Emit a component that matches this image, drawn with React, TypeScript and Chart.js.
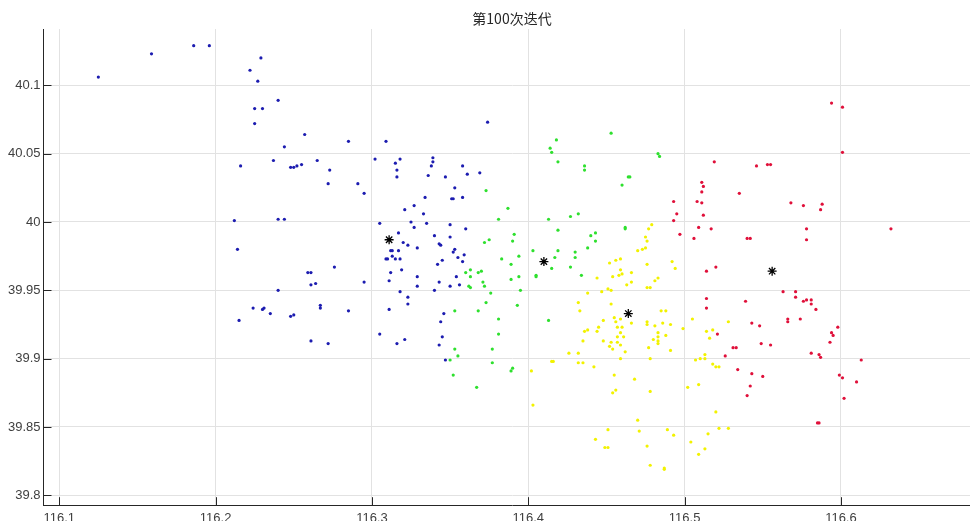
import React, { useEffect, useRef } from 'react';
import { Chart, registerables } from 'chart.js';

Chart.register(...registerables);

const titleText = '第100次迭代';

const xTicks = [116.1, 116.2, 116.3, 116.4, 116.5, 116.6];
const xTickLabels = ['116.1', '116.2', '116.3', '116.4', '116.5', '116.6'];
const yTicks = [39.8, 39.85, 39.9, 39.95, 40, 40.05, 40.1];
const yTickLabels = ['39.8', '39.85', '39.9', '39.95', '40', '40.05', '40.1'];

const xMin = 116.0896;
const xMax = 116.6896;
const yMin = 39.7924;
const yMax = 40.1412;

const blueX = [116.125, 116.159, 116.186, 116.196, 116.229, 116.222, 116.227, 116.240, 116.225, 116.230, 116.225, 116.257, 116.244, 116.237, 116.216, 116.248, 116.250, 116.252, 116.255, 116.265, 116.273, 116.272, 116.212, 116.240, 116.244, 116.214, 116.215, 116.224, 116.230, 116.231, 116.235, 116.240, 116.248, 116.250, 116.259, 116.261, 116.261, 116.264, 116.267, 116.267, 116.261, 116.272, 116.374, 116.285, 116.309, 116.291, 116.295, 116.302, 116.315, 116.318, 116.316, 116.316, 116.339, 116.339, 116.338, 116.336, 116.347, 116.358, 116.361, 116.369, 116.353, 116.351, 116.352, 116.358, 116.334, 116.321, 116.327, 116.333, 116.305, 116.325, 116.327, 116.335, 116.350, 116.360, 116.317, 116.340, 116.350, 116.320, 116.323, 116.343, 116.344, 116.329, 116.312, 116.313, 116.317, 116.353, 116.352, 116.313, 116.309, 116.310, 116.315, 116.318, 116.355, 116.359, 116.358, 116.345, 116.342, 116.319, 116.312, 116.276, 116.295, 116.311, 116.329, 116.354, 116.329, 116.343, 116.340, 116.350, 116.356, 116.318, 116.323, 116.323, 116.311, 116.285, 116.346, 116.344, 116.345, 116.343, 116.305, 116.321, 116.316, 116.347];
const blueY = [40.106, 40.123, 40.129, 40.129, 40.120, 40.111, 40.103, 40.089, 40.083, 40.083, 40.072, 40.064, 40.055, 40.045, 40.041, 40.040, 40.040, 40.041, 40.042, 40.045, 40.038, 40.028, 40.001, 40.002, 40.002, 39.980, 39.928, 39.937, 39.936, 39.937, 39.933, 39.950, 39.931, 39.932, 39.963, 39.963, 39.954, 39.955, 39.939, 39.937, 39.913, 39.911, 40.073, 40.059, 40.059, 40.028, 40.021, 40.046, 40.043, 40.046, 40.038, 40.033, 40.047, 40.044, 40.041, 40.034, 40.033, 40.041, 40.035, 40.036, 40.025, 40.017, 40.017, 40.018, 40.018, 40.009, 40.012, 40.006, 39.999, 40.000, 39.996, 39.999, 39.998, 39.995, 39.992, 39.990, 39.989, 39.985, 39.983, 39.984, 39.983, 39.981, 39.979, 39.979, 39.979, 39.980, 39.978, 39.975, 39.973, 39.973, 39.973, 39.973, 39.974, 39.976, 39.971, 39.972, 39.969, 39.965, 39.963, 39.967, 39.956, 39.957, 39.960, 39.960, 39.953, 39.956, 39.950, 39.953, 39.954, 39.949, 39.945, 39.940, 39.936, 39.935, 39.933, 39.927, 39.916, 39.910, 39.918, 39.914, 39.911, 39.899];

const greenX = [116.373, 116.381, 116.372, 116.375, 116.360, 116.363, 116.363, 116.368, 116.370, 116.362, 116.363, 116.371, 116.372, 116.376, 116.373, 116.353, 116.368, 116.381, 116.381, 116.353, 116.355, 116.350, 116.377, 116.377, 116.352, 116.367, 116.389, 116.390, 116.393, 116.395, 116.394, 116.389, 116.389, 116.405, 116.405, 116.415, 116.427, 116.413, 116.434, 116.418, 116.414, 116.415, 116.419, 116.453, 116.483, 116.484, 116.436, 116.436, 116.464, 116.465, 116.460, 116.387, 116.413, 116.427, 116.432, 116.462, 116.462, 116.419, 116.391, 116.443, 116.440, 116.443, 116.390, 116.438, 116.403, 116.419, 116.430, 116.430, 116.394, 116.383, 116.417];
const greenY = [40.023, 40.002, 39.985, 39.987, 39.963, 39.965, 39.960, 39.963, 39.964, 39.953, 39.952, 39.956, 39.953, 39.948, 39.941, 39.935, 39.935, 39.929, 39.918, 39.907, 39.902, 39.899, 39.907, 39.897, 39.888, 39.879, 39.891, 39.893, 39.939, 39.950, 39.960, 39.958, 39.969, 39.961, 39.960, 39.966, 39.967, 39.928, 39.961, 40.060, 40.054, 40.051, 40.044, 40.065, 40.050, 40.048, 40.041, 40.038, 40.033, 40.033, 40.027, 40.010, 40.002, 40.004, 40.006, 39.996, 39.995, 39.994, 39.991, 39.992, 39.990, 39.986, 39.986, 39.981, 39.979, 39.979, 39.978, 39.974, 39.975, 39.973, 39.974];

const yellowX = [116.479, 116.477, 116.475, 116.476, 116.470, 116.473, 116.475, 116.459, 116.456, 116.452, 116.459, 116.466, 116.476, 116.492, 116.494, 116.454, 116.458, 116.460, 116.444, 116.463, 116.466, 116.481, 116.483, 116.476, 116.478, 116.451, 116.453, 116.447, 116.438, 116.432, 116.433, 116.453, 116.448, 116.455, 116.466, 116.460, 116.476, 116.476, 116.481, 116.486, 116.485, 116.488, 116.491, 116.505, 116.499, 116.445, 116.436, 116.438, 116.444, 116.457, 116.461, 116.483, 116.483, 116.480, 116.448, 116.453, 116.452, 116.454, 116.459, 116.459, 116.462, 116.483, 116.483, 116.488, 116.491, 116.426, 116.432, 116.459, 116.478, 116.507, 116.415, 116.416, 116.432, 116.435, 116.442, 116.402, 116.455, 116.468, 116.454, 116.456, 116.478, 116.502, 116.509, 116.403, 116.470, 116.451, 116.471, 116.489, 116.493, 116.504, 116.443, 116.449, 116.451, 116.476, 116.509, 116.478, 116.487, 116.487, 116.528, 116.514, 116.518, 116.516, 116.510, 116.513, 116.513, 116.518, 116.520, 116.522, 116.520, 116.522, 116.528, 116.515, 116.513, 116.435, 116.477, 116.459, 116.456, 116.457, 116.457];
const yellowY = [39.998, 39.995, 39.989, 39.986, 39.979, 39.980, 39.981, 39.973, 39.972, 39.970, 39.965, 39.963, 39.969, 39.971, 39.966, 39.960, 39.961, 39.962, 39.959, 39.954, 39.956, 39.957, 39.959, 39.952, 39.952, 39.951, 39.950, 39.949, 39.948, 39.941, 39.935, 39.940, 39.928, 39.930, 39.926, 39.923, 39.927, 39.925, 39.924, 39.926, 39.935, 39.935, 39.925, 39.929, 39.922, 39.923, 39.920, 39.921, 39.920, 39.916, 39.916, 39.919, 39.916, 39.914, 39.913, 39.912, 39.909, 39.907, 39.919, 39.910, 39.905, 39.913, 39.911, 39.917, 39.906, 39.904, 39.904, 39.900, 39.900, 39.899, 39.898, 39.898, 39.897, 39.897, 39.894, 39.891, 39.888, 39.885, 39.875, 39.877, 39.876, 39.879, 39.881, 39.866, 39.855, 39.848, 39.847, 39.848, 39.844, 39.839, 39.841, 39.835, 39.835, 39.836, 39.830, 39.822, 39.820, 39.819, 39.927, 39.920, 39.921, 39.915, 39.900, 39.903, 39.900, 39.896, 39.894, 39.894, 39.861, 39.849, 39.849, 39.845, 39.834, 39.913, 39.908, 39.929, 39.927, 39.923, 39.912];

const redX = [116.594, 116.601, 116.601, 116.519, 116.546, 116.553, 116.555, 116.511, 116.512, 116.511, 116.493, 116.508, 116.511, 116.535, 116.495, 116.493, 116.512, 116.568, 116.576, 116.587, 116.588, 116.509, 116.517, 116.497, 116.506, 116.540, 116.542, 116.578, 116.578, 116.632, 116.514, 116.520, 116.563, 116.571, 116.571, 116.576, 116.578, 116.581, 116.581, 116.584, 116.539, 116.514, 116.514, 116.566, 116.566, 116.574, 116.543, 116.548, 116.594, 116.595, 116.598, 116.593, 116.521, 116.531, 116.533, 116.549, 116.555, 116.526, 116.581, 116.586, 116.587, 116.613, 116.534, 116.543, 116.550, 116.542, 116.540, 116.599, 116.601, 116.610, 116.602, 116.585, 116.586];
const redY = [40.087, 40.084, 40.051, 40.044, 40.041, 40.042, 40.042, 40.029, 40.026, 40.022, 40.015, 40.015, 40.014, 40.021, 40.006, 40.001, 40.005, 40.014, 40.012, 40.009, 40.013, 39.996, 39.995, 39.991, 39.988, 39.988, 39.988, 39.995, 39.987, 39.995, 39.964, 39.967, 39.949, 39.949, 39.945, 39.942, 39.943, 39.943, 39.940, 39.936, 39.942, 39.944, 39.937, 39.929, 39.927, 39.929, 39.926, 39.924, 39.919, 39.917, 39.923, 39.912, 39.918, 39.908, 39.908, 39.911, 39.910, 39.902, 39.904, 39.903, 39.901, 39.899, 39.892, 39.889, 39.887, 39.880, 39.873, 39.888, 39.886, 39.883, 39.871, 39.853, 39.853];

const centroidX = [116.311, 116.410, 116.464, 116.556];
const centroidY = [39.987, 39.971, 39.933, 39.964];

const zip = (xs: number[], ys: number[]) => xs.map((x, i) => ({ x, y: ys[i] }));

const axisColor = '#262626';
const tickFont = { family: "'Liberation Sans', Arial, sans-serif", size: 13 };

const tickMarks = {
  id: 'tickMarks',
  afterDraw(chart: any) {
    const { ctx, chartArea, scales } = chart;
    ctx.save();
    ctx.strokeStyle = axisColor;
    ctx.lineWidth = 1;
    ctx.beginPath();
    for (const v of xTicks) {
      const p = Math.round(scales.x.getPixelForValue(v)) + 0.5;
      ctx.moveTo(p, chartArea.bottom);
      ctx.lineTo(p, chartArea.bottom - 8.5);
    }
    for (const v of yTicks) {
      const p = Math.round(scales.y.getPixelForValue(v)) + 0.5;
      ctx.moveTo(chartArea.left, p);
      ctx.lineTo(chartArea.left + 8.5, p);
    }
    ctx.stroke();
    ctx.restore();
  },
};

export default function App() {
  const ref = useRef<HTMLCanvasElement | null>(null);

  useEffect(() => {
    if (!ref.current) return;
    const mk = (label: string, xs: number[], ys: number[], color: string) => ({
      label,
      data: zip(xs, ys),
      backgroundColor: color,
      borderColor: color,
      pointRadius: 1.6,
      pointBorderWidth: 0,
      order: 1,
    });
    const chart = new Chart(ref.current, {
      type: 'scatter',
      data: {
        datasets: [
          {
            label: 'centroids',
            data: zip(centroidX, centroidY),
            pointStyle: 'star',
            pointRadius: 4.5,
            borderColor: '#000000',
            backgroundColor: '#000000',
            pointBorderWidth: 1.3,
            order: 0,
          } as any,
          mk('c1', blueX, blueY, '#1c1cb0'),
          mk('c2', greenX, greenY, '#2ee02e'),
          mk('c3', yellowX, yellowY, '#f2f200'),
          mk('c4', redX, redY, '#e0103a'),
        ],
      },
      options: {
        responsive: false,
        animation: false,
        devicePixelRatio: 1,
        layout: { padding: { left: 0, right: 9, top: 0, bottom: 0 } },
        plugins: {
          legend: { display: false },
          tooltip: { enabled: false },
          title: {
            display: true,
            text: titleText,
            fullSize: false,
            color: axisColor,
            font: { family: "'Noto Sans CJK SC', 'Liberation Sans', sans-serif", size: 14, weight: 'normal' },
            padding: { top: 9.9, bottom: 2.3 },
          },
        },
        scales: {
          x: {
            type: 'linear',
            position: 'bottom',
            min: xMin,
            max: xMax,
            afterBuildTicks: (s: any) => {
              s.ticks = xTicks.map((value) => ({ value }));
            },
            afterFit: (s: any) => {
              s.height = 15.3;
            },
            ticks: {
              autoSkip: false,
              maxRotation: 0,
              padding: 5,
              color: '#404040',
              font: tickFont,
              callback: (v: any) => xTickLabels[xTicks.indexOf(Number(v))] ?? '',
            },
            grid: { color: '#e2e2e2', drawTicks: false, lineWidth: 1 },
            border: { display: true, color: axisColor, width: 1 },
          },
          y: {
            type: 'linear',
            position: 'left',
            min: yMin,
            max: yMax,
            afterBuildTicks: (s: any) => {
              s.ticks = yTicks.map((value) => ({ value }));
            },
            afterFit: (s: any) => {
              s.width = 43;
            },
            ticks: {
              autoSkip: false,
              padding: 2.5,
              color: '#404040',
              font: tickFont,
              callback: (v: any) => yTickLabels[yTicks.indexOf(Number(v))] ?? '',
            },
            grid: { color: '#e2e2e2', drawTicks: false, lineWidth: 1 },
            border: { display: true, color: axisColor, width: 1 },
          },
        },
      } as any,
      plugins: [tickMarks],
    });
    return () => chart.destroy();
  }, []);

  return (
    <div
      style={{
        position: 'absolute',
        left: 0,
        top: 0,
        width: 970,
        height: 521,
        overflow: 'hidden',
        background: '#ffffff',
      }}
    >
      <canvas ref={ref} width={990} height={521} style={{ display: 'block', width: 990, height: 521 }} />
    </div>
  );
}
